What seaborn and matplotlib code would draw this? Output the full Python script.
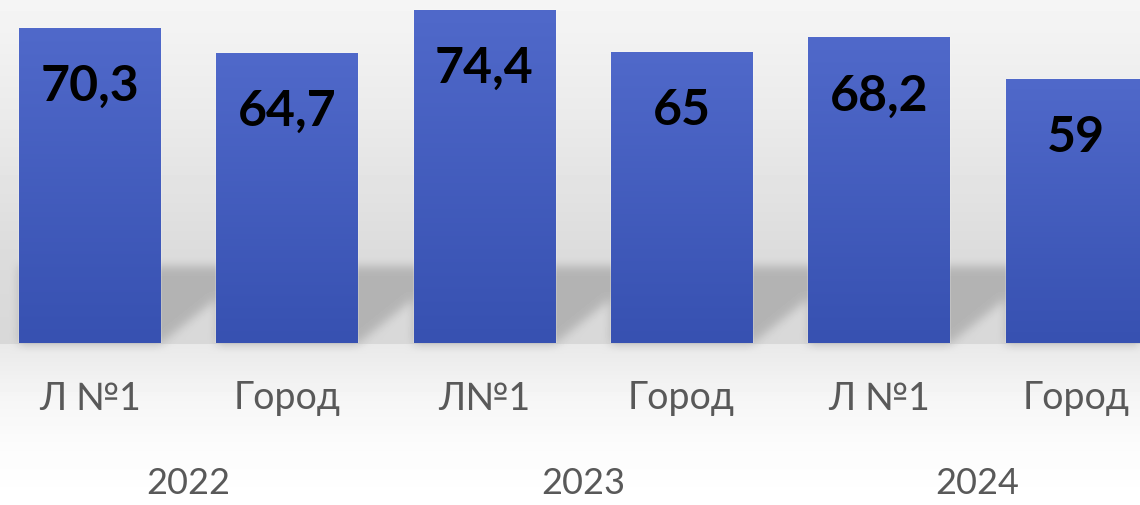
import numpy as np
import pandas as pd
import matplotlib
matplotlib.use("Agg")
import matplotlib.pyplot as plt
from matplotlib.colors import LinearSegmentedColormap
import seaborn as sns

# data
years = ["2022", "2023", "2024"]
groups = ["Л №1", "Город", "Л№1", "Город", "Л №1", "Город"]
values = [70.3, 64.7, 74.4, 65, 68.2, 59]
value_labels = ["70,3", "64,7", "74,4", "65", "68,2", "59"]

keys = [f"{years[i // 2]}|{g}|{i}" for i, g in enumerate(groups)]
df = pd.DataFrame({"key": keys, "value": values})

sns.set_style("white")
plt.rcParams["font.family"] = ["Lato", "Open Sans", "DejaVu Sans"]

W, H = 1140, 505
fig = plt.figure(figsize=(W / 100, H / 100), dpi=100)
bg = fig.add_axes([0, 0, 1, 1], zorder=0)
bg.axis("off")
ax = fig.add_axes([0, 162 / H, 1, 343 / H], zorder=1)
ax.patch.set_alpha(0)

top_col = "#5069ca"
bot_col = "#3751b1"
sns.barplot(data=df, x="key", y="value", order=keys, color=top_col,
            width=0.715, saturation=1, ax=ax)
ax.set_xlim(-0.4536, 5.324)
ax.set_ylim(0, 76.56)
sns.despine(ax=ax, left=True, bottom=True)
ax.set_yticks([])
ax.set_xlabel("")
ax.set_ylabel("")
ax.set_xticks(range(len(groups)))
ax.set_xticklabels(groups, fontsize=27, color="#595959")
ax.tick_params(axis="x", length=0, pad=27)

# vertical gradient inside every bar
cmap = LinearSegmentedColormap.from_list("bar", [bot_col, top_col])
grad = np.linspace(0, 1, 256).reshape(-1, 1)
bars = list(ax.patches)
for p in bars:
    x0, w, h = p.get_x(), p.get_width(), p.get_height()
    im = ax.imshow(grad, extent=[x0, x0 + w, 0, h], aspect="auto", cmap=cmap,
                   origin="lower", zorder=p.get_zorder() + 0.1)
    im.set_clip_path(p)
ax.set_xlim(-0.4536, 5.324)
ax.set_ylim(0, 76.56)

for i, (v, lab) in enumerate(zip(values, value_labels)):
    ax.text(i, v - 16.3, lab, ha="center", va="baseline", fontsize=36,
            fontweight="bold", color="black", zorder=5)

for j, y in enumerate(years):
    ax.text(2 * j + 0.5, -31.3, y, ha="center", va="center", fontsize=26,
            color="#595959", clip_on=False)

# background: grey gradient plus soft shadow band behind the bars
rows = np.arange(H)
prof = np.interp(rows, [0, 120, 250, 343, 344, 400, 450, 505],
                 [245, 234, 220, 216, 233, 246, 252, 255])
img = np.tile(prof[:, None], (1, W)).astype(float)

base_row = H - ax.transData.transform((0, 0))[1]
cols = np.arange(W)
mask = np.zeros((H, W))
for p in bars:
    xl = ax.transData.transform((p.get_x(), 0))[0]
    xr = ax.transData.transform((p.get_x() + p.get_width(), 0))[0]
    limit = base_row - np.clip(cols - xr, 0, None) * 0.8
    inside_x = (cols >= xl) & (cols <= xr + 80)
    m = (rows[:, None] >= 266) & (rows[:, None] <= limit[None, :]) & inside_x[None, :]
    mask = np.maximum(mask, m.astype(float))

k = np.ones(11) / 11
for _ in range(2):
    mask = np.apply_along_axis(lambda r: np.convolve(r, k, mode="same"), 1, mask)
    mask = np.apply_along_axis(lambda c: np.convolve(c, k, mode="same"), 0, mask)
img = img * (1 - mask) + 180 * mask

bg.imshow(img, extent=[0, 1, 0, 1], aspect="auto", cmap="gray", vmin=0, vmax=255,
          interpolation="bilinear")
bg.set_xlim(0, 1)
bg.set_ylim(0, 1)

fig.savefig("out.png", dpi=100)
